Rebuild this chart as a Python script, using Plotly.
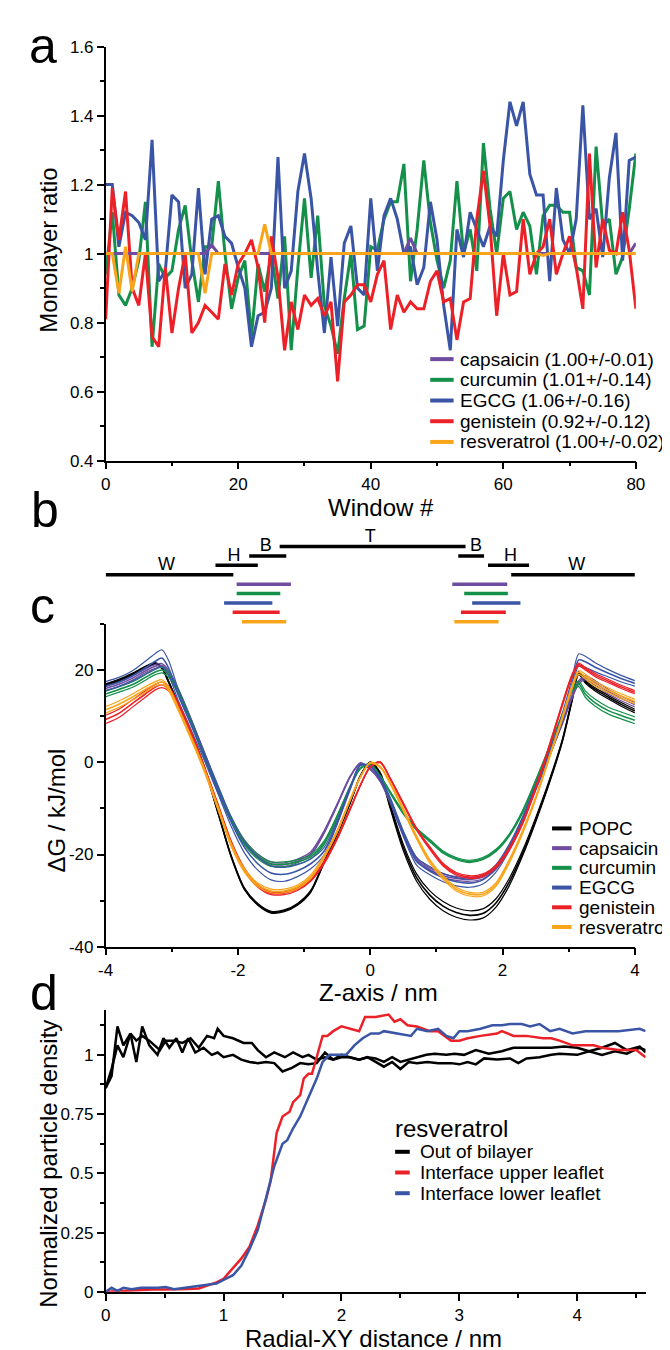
import plotly.graph_objects as go

FIG_W, FIG_H = 670, 1350
FONT = "Liberation Sans, Arial, Helvetica, sans-serif"
LETTER_FONT = "Liberation Sans, Arial, sans-serif"


def fx(p):
    return p / FIG_W


def fy(p):
    return 1 - p / FIG_H


C_BLACK = "#000000"
C_PURPLE = "#6E4C9F"
C_GREEN = "#14904A"
C_BLUE = "#3A55A6"
C_RED = "#EC2128"
C_ORANGE = "#F9A51B"

# ---------------- panel a : monolayer ratio per window ----------------
windows = list(range(81))
a_names = ["capsaicin", "curcumin", "EGCG", "genistein", "resveratrol"]
a_stats = ["(1.00+/-0.01)", "(1.01+/-0.14)", "(1.06+/-0.16)", "(0.92+/-0.12)", "(1.00+/-0.02)"]
a_colors = [C_PURPLE, C_GREEN, C_BLUE, C_RED, C_ORANGE]

capsaicin_a = [1.00, 1.00, 1.00, 1.00, 1.00, 1.00, 1.00, 1.00, 1.00, 1.00,
               1.00, 1.00, 1.00, 1.00, 1.00, 1.00, 1.025, 1.00, 1.00, 1.00,
               1.00, 1.00, 1.00, 1.00, 1.00, 1.00, 1.00, 1.00, 1.00, 1.00,
               1.00, 1.00, 1.00, 1.00, 1.00, 1.00, 1.00, 1.00, 1.00, 1.00,
               1.00, 1.00, 1.00, 1.00, 1.00, 1.00, 1.045, 1.00, 1.00, 1.00,
               1.00, 1.00, 1.00, 1.00, 1.00, 1.00, 1.00, 1.00, 1.00, 1.00,
               1.00, 1.00, 1.00, 1.00, 1.00, 1.00, 1.00, 1.00, 1.00, 1.00,
               1.00, 1.00, 1.00, 1.00, 1.00, 1.00, 1.00, 1.00, 1.00, 1.00,
               1.03]
curcumin_a = [0.94, 1.12, 0.88, 0.85, 0.90, 0.98, 1.15, 0.73, 0.97, 0.93,
              0.95, 1.07, 1.14, 0.98, 0.86, 1.02, 1.02, 1.21, 1.00, 0.84,
              0.93, 0.98, 0.76, 0.97, 0.89, 1.00, 0.87, 1.05, 0.72, 0.96,
              1.16, 0.93, 1.11, 0.85, 0.79, 0.71, 0.87, 1.00, 0.78, 0.79,
              1.02, 1.01, 1.10, 1.15, 1.15, 1.26, 0.92, 1.07, 1.27, 1.09,
              0.98, 0.90, 0.98, 1.21, 1.00, 1.07, 0.95, 1.32, 1.13, 1.00,
              1.16, 1.18, 1.07, 1.12, 1.08, 0.94, 1.11, 1.14, 1.14, 1.12,
              1.12, 0.96, 0.95, 0.88, 1.31, 1.08, 1.10, 0.94, 0.99, 1.13,
              1.29]
egcg_a = [1.20, 1.20, 1.02, 1.12, 1.11, 1.09, 1.04, 1.33, 0.92, 0.95,
          1.17, 1.15, 0.90, 0.94, 1.19, 0.94, 1.10, 1.11, 1.05, 1.03,
          0.96, 0.90, 0.73, 0.82, 0.83, 0.90, 1.28, 0.90, 0.95, 1.18,
          1.29, 1.16, 0.95, 0.77, 0.99, 0.79, 1.03, 1.08, 0.90, 0.88,
          1.16, 0.95, 1.11, 1.16, 1.10, 1.00, 1.02, 0.91, 0.96, 1.15,
          1.04, 0.85, 0.72, 1.07, 0.99, 1.12, 1.07, 1.02, 1.08, 1.05,
          1.27, 1.44, 1.37, 1.44, 1.23, 1.17, 1.17, 0.92, 1.19, 1.04,
          1.00, 1.10, 1.43, 1.10, 1.13, 0.99, 1.22, 1.35, 0.98, 1.27,
          1.28]
genistein_a = [0.81, 1.19, 1.04, 1.18, 0.90, 0.85, 1.00, 0.76, 0.73, 0.96,
               0.77, 0.90, 1.00, 0.77, 0.80, 0.85, 0.83, 0.81, 0.97, 0.88,
               0.97, 1.00, 1.04, 0.96, 0.80, 1.05, 0.93, 0.72, 0.86, 0.78,
               0.88, 0.85, 0.87, 0.82, 0.86, 0.63, 0.86, 0.88, 0.91, 0.91,
               0.86, 0.94, 0.98, 0.78, 0.88, 0.83, 0.86, 0.84, 0.84, 0.92,
               0.95, 0.86, 0.87, 0.75, 0.86, 0.87, 1.10, 1.24, 1.08, 0.82,
               1.00, 0.88, 0.89, 1.10, 0.94, 1.00, 1.02, 1.10, 0.94, 1.00,
               1.05, 0.96, 0.84, 1.29, 0.96, 1.10, 1.01, 1.00, 1.12, 1.01,
               0.84]
resveratrol_a = [1.00, 1.00, 0.885, 1.02, 0.89, 1.00, 1.00, 1.00, 1.00, 1.00,
                 1.00, 1.00, 1.00, 1.00, 1.00, 0.885, 1.00, 1.00, 1.00, 1.00,
                 1.00, 1.00, 1.00, 1.00, 1.085, 1.00, 1.00, 1.00, 1.00, 1.00,
                 1.00, 1.00, 1.00, 1.00, 1.00, 1.00, 1.00, 1.00, 1.00, 1.00,
                 1.00, 1.00, 1.00, 1.00, 1.00, 1.00, 1.00, 1.00, 1.00, 1.00,
                 1.00, 1.00, 1.00, 1.00, 1.00, 1.00, 1.00, 1.00, 1.00, 1.00,
                 1.00, 1.00, 1.00, 1.00, 1.00, 1.00, 0.995, 1.00, 1.00, 1.00,
                 1.00, 1.00, 1.00, 1.00, 1.00, 1.00, 1.00, 1.00, 1.00, 1.00,
                 1.00]
a_series = [capsaicin_a, curcumin_a, egcg_a, genistein_a, resveratrol_a]
a_draw_order = [1, 2, 3, 0, 4]

# ---------------- panel b : region bars ----------------
region_labels = ["W", "H", "B", "T", "B", "H", "W"]
region_start = [-4.0, -2.34, -1.83, -1.37, 1.33, 1.78, 2.13]
region_end = [-2.07, -1.70, -1.27, 1.44, 1.72, 2.40, 4.0]
region_row = [3, 2, 1, 0, 1, 2, 3]
region_label_x = [-3.08, -2.06, -1.58, 0.0, 1.60, 2.12, 3.12]

comp_left_start = [-2.02, -2.02, -2.21, -2.08, -1.94]
comp_left_end = [-1.20, -1.36, -1.48, -1.37, -1.27]
comp_right_start = [1.24, 1.42, 1.54, 1.37, 1.27]
comp_right_end = [2.07, 2.08, 2.27, 2.05, 1.94]
comp_row = [4, 5, 6, 7, 8]

# ---------------- panel c : free energy profiles ----------------
z_nm = [-4.0, -3.8, -3.6, -3.4, -3.25, -3.15, -3.05, -2.9, -2.7, -2.5,
        -2.3, -2.1, -1.9, -1.7, -1.5, -1.3, -1.1, -0.9, -0.7, -0.5,
        -0.3, -0.15, 0.0, 0.15, 0.3, 0.5, 0.7, 0.9, 1.1, 1.3,
        1.5, 1.7, 1.9, 2.1, 2.3, 2.5, 2.7, 2.9, 3.05, 3.15,
        3.25, 3.4, 3.6, 3.8, 4.0]
c_names = ["POPC", "capsaicin", "curcumin", "EGCG", "genistein", "resveratrol"]
c_colors = [C_BLACK, C_PURPLE, C_GREEN, C_BLUE, C_RED, C_ORANGE]

popc_dg = [16.8, 17.8, 19.1, 20.6, 21.4, 20.5, 17.5, 12.5, 6.0, -1.5,
           -11.0, -20.5, -27.5, -30.8, -32.5, -32.2, -30.8, -28.0, -21.7, -15.5,
           -8.6, -3.0, 0.0, -2.5, -9.5, -18.5, -25.0, -28.8, -31.2, -32.6,
           -33.2, -32.8, -30.5, -26.0, -19.8, -12.5, -4.5, 4.5, 13.5, 19.3,
           17.5, 15.8, 14.1, 12.5, 11.1]
popc_err = [0.2, 0.2, 0.2, 0.2, 0.2, 0.2, 0.2, 0.2, 0.2, 0.2,
            0.2, 0.2, 0.2, 0.2, 0.2, 0.2, 0.2, 0.2, 0.2, 0.2,
            0.2, 0.15, 0.1, 0.3, 0.5, 0.7, 0.8, 0.9, 1.0, 1.0,
            1.0, 1.0, 0.9, 0.8, 0.6, 0.5, 0.4, 0.3, 0.3, 0.3,
            0.3, 0.35, 0.4, 0.4, 0.4]
capsaicin_dg = [16.0, 16.9, 18.2, 19.8, 20.8, 21.0, 19.6, 15.5, 8.8, 1.5,
                -5.8, -12.3, -17.3, -20.3, -22.0, -22.2, -21.4, -19.8, -15.2, -9.2,
                -3.0, -0.2, -1.5, -4.0, -8.5, -15.5, -21.0, -23.3, -24.6, -25.2,
                -25.4, -24.9, -22.8, -18.5, -12.5, -5.5, 1.5, 8.5, 14.2, 17.3,
                18.3, 17.2, 15.3, 13.8, 12.5]
capsaicin_err = [0.4, 0.4, 0.4, 0.4, 0.4, 0.4, 0.4, 0.4, 0.4, 0.4,
                 0.4, 0.4, 0.4, 0.4, 0.4, 0.4, 0.4, 0.4, 0.3, 0.2,
                 0.1, 0.1, 0.1, 0.2, 0.3, 0.4, 0.4, 0.4, 0.4, 0.4,
                 0.4, 0.4, 0.4, 0.4, 0.4, 0.4, 0.4, 0.4, 0.4, 0.4,
                 0.45, 0.5, 0.5, 0.5, 0.5]
curcumin_dg = [14.8, 15.8, 16.8, 18.4, 19.6, 20.0, 19.0, 15.2, 8.5, 1.0,
               -6.2, -12.5, -17.5, -20.5, -22.1, -22.1, -21.6, -20.5, -17.5, -11.8,
               -5.2, -1.3, -0.4, -3.0, -6.5, -11.0, -14.5, -17.0, -19.5, -20.9,
               -21.5, -20.9, -19.1, -15.8, -10.8, -4.2, 2.8, 10.0, 15.8, 17.0,
               14.8, 12.9, 11.2, 10.1, 9.1]
curcumin_err = [0.6, 0.6, 0.6, 0.6, 0.6, 0.6, 0.55, 0.5, 0.5, 0.5,
                0.5, 0.5, 0.5, 0.5, 0.5, 0.5, 0.5, 0.45, 0.4, 0.3,
                0.2, 0.1, 0.1, 0.15, 0.2, 0.25, 0.25, 0.25, 0.25, 0.25,
                0.25, 0.25, 0.25, 0.25, 0.3, 0.35, 0.4, 0.45, 0.5, 0.6,
                0.7, 0.75, 0.75, 0.75, 0.75]
egcg_dg = [16.5, 17.4, 18.7, 20.5, 21.9, 22.6, 20.5, 14.5, 7.8, 1.0,
           -6.0, -13.0, -18.5, -22.0, -24.0, -24.3, -23.5, -22.0, -19.3, -13.0,
           -5.5, -0.6, -0.9, -3.5, -8.0, -15.5, -21.5, -23.5, -25.0, -25.9,
           -26.2, -25.5, -23.0, -18.5, -12.5, -5.5, 1.5, 9.5, 17.0, 22.2,
           21.8, 20.6, 19.3, 18.1, 17.1]
egcg_err = [1.0, 1.0, 1.1, 1.4, 1.7, 1.8, 1.6, 1.2, 1.0, 0.9,
            0.9, 1.0, 1.2, 1.4, 1.5, 1.5, 1.3, 1.1, 0.8, 0.5,
            0.3, 0.1, 0.1, 0.2, 0.4, 0.6, 0.8, 0.9, 0.9, 0.9,
            0.9, 0.9, 0.8, 0.7, 0.6, 0.6, 0.7, 0.9, 1.1, 1.3,
            1.2, 1.0, 0.8, 0.7, 0.6]
genistein_dg = [9.3, 10.6, 12.7, 14.8, 16.3, 16.8, 16.0, 12.5, 6.0, -1.5,
                -9.5, -17.5, -23.3, -26.8, -28.4, -28.4, -27.5, -25.5, -21.8, -16.5,
                -10.0, -5.0, -1.0, 0.0, -3.5, -9.0, -14.5, -18.6, -22.2, -24.2,
                -24.9, -24.5, -22.6, -18.8, -13.2, -5.6, 3.2, 12.4, 18.8, 21.2,
                20.3, 18.9, 17.6, 16.3, 15.2]
genistein_err = [0.9, 0.9, 0.8, 0.7, 0.6, 0.6, 0.5, 0.4, 0.4, 0.4,
                 0.4, 0.35, 0.3, 0.3, 0.3, 0.3, 0.3, 0.3, 0.3, 0.2,
                 0.15, 0.1, 0.1, 0.1, 0.15, 0.2, 0.25, 0.3, 0.3, 0.3,
                 0.3, 0.3, 0.3, 0.3, 0.3, 0.3, 0.3, 0.3, 0.3, 0.3,
                 0.3, 0.35, 0.35, 0.35, 0.35]
resveratrol_dg = [11.4, 12.6, 14.1, 15.8, 17.0, 17.4, 16.0, 11.5, 5.0, -2.0,
                  -10.0, -18.0, -23.5, -26.6, -27.9, -27.9, -27.0, -24.8, -20.5, -15.0,
                  -8.0, -3.2, -0.1, -1.0, -4.5, -10.3, -16.3, -21.5, -25.0, -27.5,
                  -28.6, -28.6, -26.5, -21.5, -15.2, -7.8, 0.8, 9.5, 16.3, 19.5,
                  18.6, 17.0, 15.6, 14.3, 13.2]
resveratrol_err = [0.7, 0.7, 0.65, 0.6, 0.5, 0.5, 0.45, 0.4, 0.4, 0.4,
                   0.4, 0.4, 0.4, 0.4, 0.4, 0.4, 0.4, 0.4, 0.35, 0.3,
                   0.2, 0.1, 0.1, 0.15, 0.2, 0.3, 0.35, 0.4, 0.4, 0.4,
                   0.4, 0.4, 0.4, 0.4, 0.35, 0.3, 0.3, 0.35, 0.4, 0.45,
                   0.5, 0.5, 0.5, 0.5, 0.5]
c_dg = [popc_dg, capsaicin_dg, curcumin_dg, egcg_dg, genistein_dg, resveratrol_dg]
c_err = [popc_err, capsaicin_err, curcumin_err, egcg_err, genistein_err, resveratrol_err]

# ---------------- panel d : radial density (resveratrol) ----------------
d_names = ["Out of bilayer", "Interface upper leaflet", "Interface lower leaflet"]
d_colors = [C_BLACK, C_RED, C_BLUE]
d_title = "resveratrol"

out1_r = [0, 0.05, 0.1, 0.15, 0.21, 0.26, 0.31, 0.37, 0.44, 0.49, 0.54, 0.6, 0.65, 0.7,
          0.76, 0.83, 0.9, 0.95, 1.0, 1.08, 1.15, 1.22, 1.29, 1.36, 1.43, 1.5, 1.58,
          1.65, 1.72, 1.79, 1.86, 1.93, 2.0, 2.07, 2.15, 2.22, 2.29, 2.36, 2.43, 2.5,
          2.57, 2.64, 2.73, 2.82, 2.93, 3.0, 3.07, 3.14, 3.21, 3.32, 3.43, 3.5, 3.57,
          3.68, 3.78, 3.85, 4.0, 4.1, 4.21, 4.32, 4.42, 4.53, 4.58]
out1_rho = [0.86, 0.91, 1.12, 1.04, 1.09, 0.97, 1.12, 1.04, 1.0, 1.07, 1.03, 1.07, 1.01, 1.07,
            1.01, 1.03, 1.0, 1.01, 0.99, 1.0, 0.98, 0.97, 0.965, 0.97, 0.965, 0.93, 0.945,
            0.965, 0.96, 0.965, 1.01, 0.98, 0.99, 0.99, 0.98, 0.99, 0.97, 0.95, 0.97, 0.94,
            0.97, 0.965, 0.97, 0.965, 0.965, 0.96, 0.97, 0.96, 0.985, 0.98, 0.985, 0.965, 0.985,
            0.99, 1.0, 1.005, 1.0, 1.015, 1.0, 1.015, 1.005, 1.03, 1.02]
out2_r = [0, 0.05, 0.1, 0.15, 0.21, 0.26, 0.31, 0.37, 0.46, 0.51, 0.58, 0.65, 0.72, 0.79,
          0.86, 0.92, 0.95, 1.0, 1.08, 1.17, 1.24, 1.29, 1.36, 1.43, 1.52, 1.59, 1.67,
          1.72, 1.79, 1.86, 1.93, 2.0, 2.07, 2.15, 2.22, 2.29, 2.36, 2.43, 2.5, 2.57,
          2.64, 2.72, 2.79, 2.89, 2.96, 3.04, 3.14, 3.25, 3.36, 3.46, 3.57, 3.68, 3.78,
          3.89, 4.0, 4.1, 4.21, 4.32, 4.42, 4.53, 4.58]
out2_rho = [0.86, 0.94, 1.04, 0.99, 1.09, 1.06, 1.08, 1.06, 1.02, 1.06, 1.06, 1.05, 1.07, 1.03,
            1.08, 1.07, 1.11, 1.08, 1.07, 1.05, 1.05, 1.02, 0.99, 1.01, 0.99, 1.01, 0.99,
            1.0, 0.98, 0.99, 0.98, 1.0, 0.99, 0.98, 0.99, 0.985, 0.97, 0.99, 0.97, 0.98,
            0.99, 1.0, 1.005, 1.0, 1.005, 1.0, 1.02, 1.005, 1.015, 1.03, 1.03, 1.03, 1.03,
            1.035, 1.03, 1.015, 1.03, 1.05, 1.02, 1.035, 1.01]
upper_r = [0, 0.1, 0.2, 0.3, 0.4, 0.5, 0.6, 0.7, 0.79, 0.94, 1.0, 1.08, 1.15, 1.22, 1.29,
           1.36, 1.4, 1.45, 1.5, 1.56, 1.59, 1.65, 1.68, 1.72, 1.75, 1.79, 1.84, 1.88,
           1.93, 2.0, 2.07, 2.15, 2.2, 2.29, 2.4, 2.45, 2.5, 2.56, 2.64, 2.75, 2.82, 2.93,
           3.0, 3.07, 3.18, 3.32, 3.36, 3.46, 3.57, 3.71, 3.78, 3.85, 3.96, 4.14, 4.21,
           4.35, 4.5, 4.58]
upper_rho = [0.0, 0.003, 0.006, 0.008, 0.01, 0.01, 0.01, 0.012, 0.014, 0.04, 0.055, 0.1, 0.14,
             0.19, 0.28, 0.39, 0.47, 0.67, 0.74, 0.76, 0.8, 0.83, 0.9, 0.92, 0.92, 0.99, 1.08,
             1.08, 1.1, 1.12, 1.11, 1.1, 1.16, 1.16, 1.17, 1.14, 1.15, 1.125, 1.12, 1.1, 1.1,
             1.06, 1.06, 1.07, 1.08, 1.09, 1.1, 1.08, 1.08, 1.07, 1.07, 1.06, 1.04, 1.04,
             1.03, 1.02, 1.02, 0.99]
lower_r = [0, 0.05, 0.1, 0.15, 0.22, 0.3, 0.44, 0.51, 0.58, 0.72, 0.83, 0.94, 1.0, 1.08,
           1.15, 1.22, 1.29, 1.36, 1.43, 1.5, 1.54, 1.59, 1.65, 1.72, 1.79, 1.84, 1.9,
           1.99, 2.04, 2.11, 2.18, 2.25, 2.32, 2.36, 2.47, 2.59, 2.64, 2.73, 2.82, 2.89,
           2.95, 3.0, 3.07, 3.18, 3.28, 3.36, 3.43, 3.53, 3.6, 3.68, 3.77, 3.85, 3.96,
           4.07, 4.21, 4.35, 4.53, 4.58]
lower_rho = [0.0, 0.017, 0.004, 0.017, 0.011, 0.017, 0.017, 0.02, 0.011, 0.02, 0.03, 0.035,
             0.05, 0.07, 0.11, 0.18, 0.26, 0.39, 0.53, 0.625, 0.64, 0.69, 0.74, 0.82, 0.9,
             0.97, 1.0, 1.0, 1.0, 1.04, 1.07, 1.09, 1.09, 1.1, 1.09, 1.08, 1.11, 1.1, 1.11,
             1.08, 1.07, 1.1, 1.1, 1.11, 1.125, 1.125, 1.13, 1.13, 1.12, 1.13, 1.1, 1.11,
             1.09, 1.1, 1.1, 1.1, 1.11, 1.1]

# ---------------- figure ----------------
fig = go.Figure()

for i in a_draw_order:
    fig.add_trace(go.Scatter(x=windows, y=a_series[i], mode="lines",
                             line=dict(color=a_colors[i], width=3),
                             xaxis="x", yaxis="y", showlegend=False,
                             name=a_names[i]))

# panel b bars
for s, e, r in zip(region_start, region_end, region_row):
    fig.add_trace(go.Scatter(x=[s, e], y=[r, r], mode="lines",
                             line=dict(color="black", width=3.5),
                             xaxis="x2", yaxis="y2", showlegend=False, hoverinfo="skip"))
fig.add_trace(go.Scatter(x=region_label_x, y=region_row, mode="text", text=region_labels,
                         textposition="top center",
                         textfont=dict(family=FONT, size=18, color="black"),
                         xaxis="x2", yaxis="y2", showlegend=False, hoverinfo="skip"))
for k in range(len(comp_row)):
    fig.add_trace(go.Scatter(x=[comp_left_start[k], comp_left_end[k], None,
                                comp_right_start[k], comp_right_end[k]],
                             y=[comp_row[k], comp_row[k], None, comp_row[k], comp_row[k]],
                             mode="lines", line=dict(color=a_colors[k], width=3.5),
                             xaxis="x2", yaxis="y2", showlegend=False, hoverinfo="skip"))

# panel c
for k in range(len(c_names)):
    mean = c_dg[k]
    err = c_err[k]
    lo = [m - e for m, e in zip(mean, err)]
    hi = [m + e for m, e in zip(mean, err)]
    for arr, w in ((lo, 1.2), (hi, 1.2), (mean, 1.6)):
        fig.add_trace(go.Scatter(x=z_nm, y=arr, mode="lines",
                                 line=dict(color=c_colors[k], width=w, shape="spline", smoothing=0.8),
                                 xaxis="x3", yaxis="y3", showlegend=False, hoverinfo="skip"))

# panel d
d_series = [(out1_r, out1_rho, 0), (out2_r, out2_rho, 0), (upper_r, upper_rho, 1), (lower_r, lower_rho, 2)]
for xr, yr, ci in d_series:
    fig.add_trace(go.Scatter(x=xr, y=yr, mode="lines",
                             line=dict(color=d_colors[ci], width=2.5),
                             xaxis="x4", yaxis="y4", showlegend=False, hoverinfo="skip"))

# ---------------- axes ----------------
def axis(**kw):
    d = dict(showline=True, linecolor="black", linewidth=1.5, ticks="outside", ticklen=7,
             tickwidth=1.5, tickcolor="black", showgrid=False, zeroline=False,
             tickfont=dict(family=FONT, size=17, color="black"), fixedrange=True)
    d.update(kw)
    return d


def minor(vals):
    return dict(tickmode="array", tickvals=vals, ticks="outside", ticklen=4,
                tickwidth=1.5, tickcolor="black", showgrid=False)


xa_dom = [fx(92), fx(636)]
xc_dom = [fx(92), fx(635)]
xd_dom = [fx(92), fx(646)]

fig.update_layout(
    width=FIG_W, height=FIG_H,
    margin=dict(l=0, r=0, t=0, b=0),
    paper_bgcolor="white", plot_bgcolor="white",
    showlegend=False,
    xaxis=axis(domain=xa_dom, range=[0, 80], anchor="y",
               tickvals=[0, 20, 40, 60, 80], ticktext=["0", "20", "40", "60", "80"],
               minor=minor([10, 30, 50, 70])),
    yaxis=axis(domain=[fy(450), fy(30)], range=[0.4, 1.6], anchor="x",
               tickvals=[0.4, 0.6, 0.8, 1.0, 1.2, 1.4, 1.6],
               ticktext=["0.4", "0.6", "0.8", "1", "1.2", "1.4", "1.6"],
               minor=minor([0.5, 0.7, 0.9, 1.1, 1.3, 1.5])),
    xaxis2=dict(domain=xc_dom, range=[-4, 4], visible=False, anchor="y2", fixedrange=True),
    yaxis2=dict(domain=[fy(622), fy(518)], range=[8.9, -2.0], visible=False, anchor="x2",
                fixedrange=True),
    xaxis3=axis(domain=xc_dom, range=[-4, 4], anchor="y3",
                tickvals=[-4, -2, 0, 2, 4], ticktext=["-4", "-2", "0", "2", "4"],
                minor=minor([-3, -1, 1, 3])),
    yaxis3=axis(domain=[fy(943), fy(615.6)], range=[-40, 30], anchor="x3",
                tickvals=[-40, -20, 0, 20], ticktext=["-40", "-20", "0", "20"],
                minor=minor([-30, -10, 10, 30])),
    xaxis4=axis(domain=xd_dom, range=[0, 4.58], anchor="y4",
                tickvals=[0, 1, 2, 3, 4], ticktext=["0", "1", "2", "3", "4"],
                minor=minor([0.5, 1.5, 2.5, 3.5, 4.5])),
    yaxis4=axis(domain=[fy(1293), fy(1007)], range=[0, 1.19], anchor="x4",
                tickvals=[0, 0.25, 0.5, 0.75, 1.0], ticktext=["0", "0.25", "0.5", "0.75", "1"],
                minor=minor([0.125, 0.375, 0.625, 0.875, 1.125])),
)

annotations = []
shapes = []


def txt(x, y, s, size, anchor="left", angle=0, family=FONT):
    annotations.append(dict(x=fx(x), y=fy(y), xref="paper", yref="paper", text=s,
                            showarrow=False, xanchor=anchor, yanchor="middle",
                            textangle=angle, font=dict(family=family, size=size, color="black")))


def swatch(x0, x1, y, color, w=4):
    shapes.append(dict(type="line", xref="paper", yref="paper", x0=fx(x0), x1=fx(x1),
                       y0=fy(y), y1=fy(y), line=dict(color=color, width=w)))


# panel letters
txt(28, 29, "a", 50, "center", family=LETTER_FONT)
txt(30, 500, "b", 50, "center", family=LETTER_FONT)
txt(27, 597, "c", 50, "center", family=LETTER_FONT)
txt(29, 990, "d", 50, "center", family=LETTER_FONT)

# axis titles
txt(34, 237, "Monolayer ratio", 24, "center", -90)
txt(374, 497, "Window #", 24, "center")
txt(42, 805, "ΔG / kJ/mol", 24, "center", -90)
txt(372, 989, "Z-axis / nm", 24, "center")
txt(33, 1163, "Normalized particle density", 24, "center", -90)
txt(367, 1340, "Radial-XY distance / nm", 24, "center")

# legend panel a
for k in range(len(a_names)):
    yy = 347 + 21 * k
    swatch(425, 449, yy, a_colors[k])
    txt(454, yy, a_names[k] + " " + a_stats[k], 19)

# legend panel c
for k in range(len(c_names)):
    yy = 823 + 20 * k
    swatch(550, 570, yy, c_colors[k])
    txt(576, yy, c_names[k], 19)

# legend panel d
txt(387, 1127, d_title, 24)
for k in range(len(d_names)):
    yy = 1151 + 21 * k
    swatch(389, 404, yy, d_colors[k])
    txt(412, yy, d_names[k], 19)

fig.update_layout(annotations=annotations, shapes=shapes)

fig.write_html("out.html")
